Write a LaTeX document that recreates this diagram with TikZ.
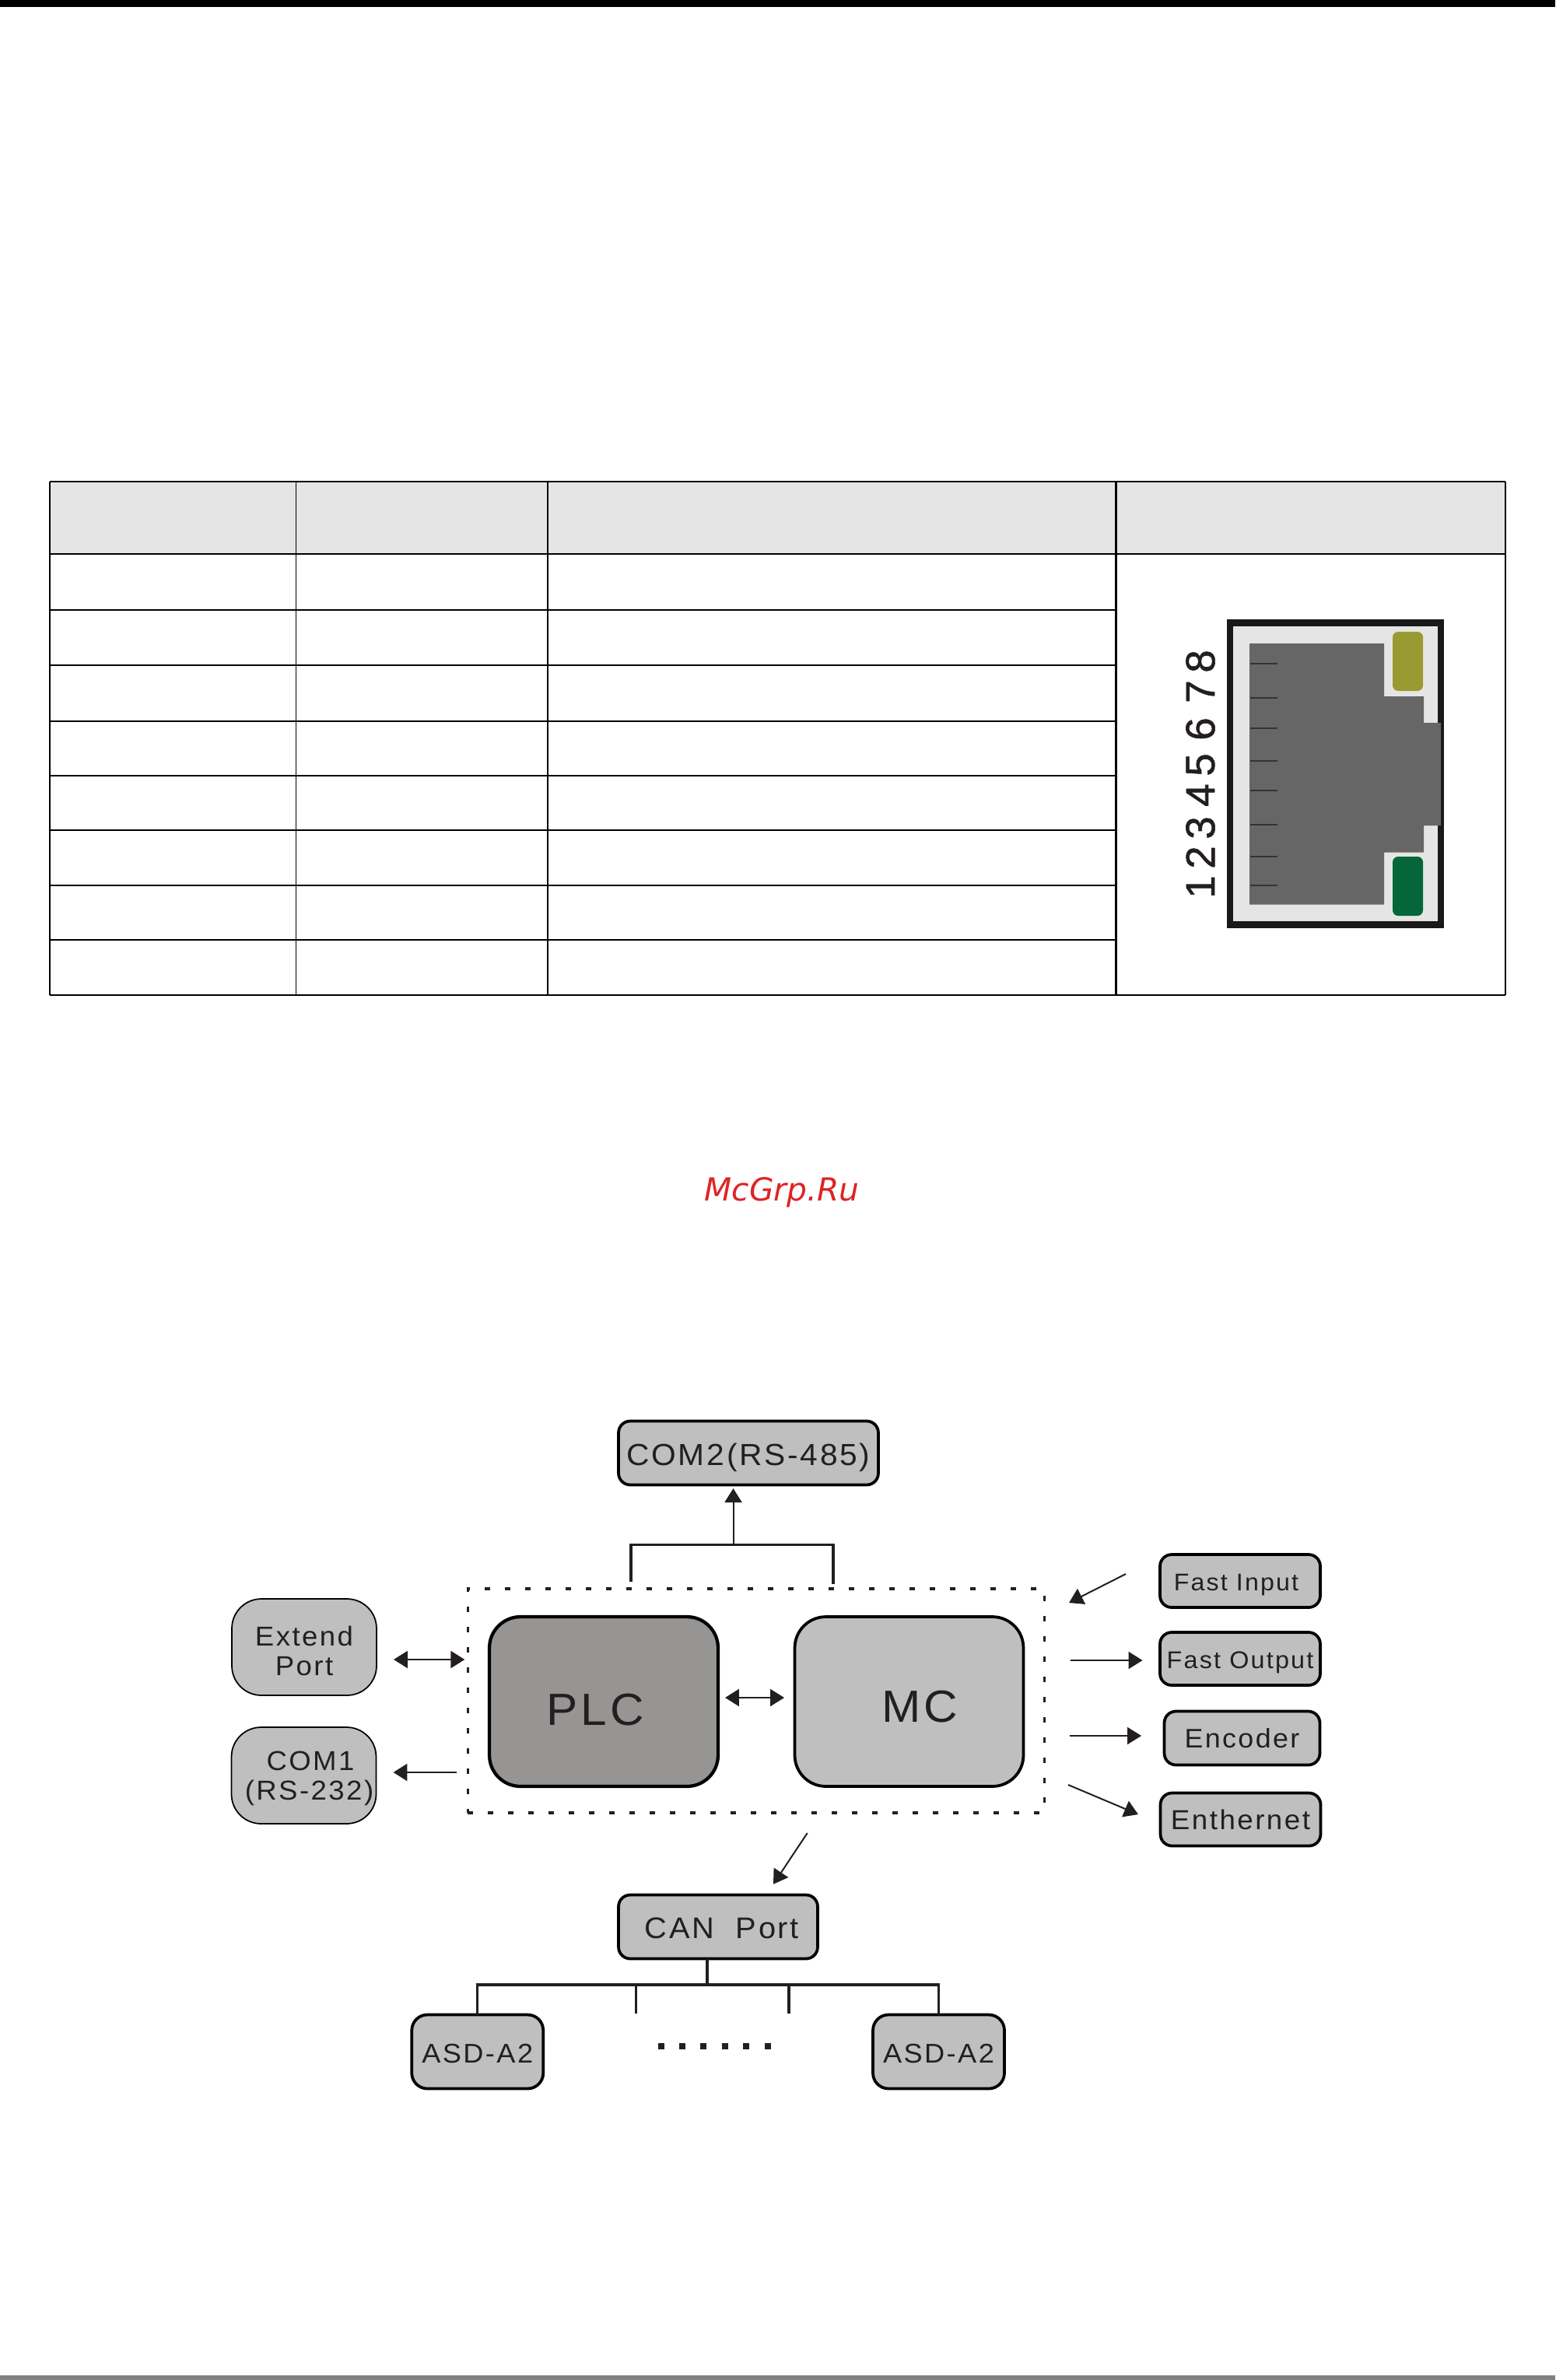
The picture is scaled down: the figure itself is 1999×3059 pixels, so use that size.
\documentclass[tikz,border=0pt]{standalone}
\usepackage{fontspec}
\usepackage{tikz}
\usetikzlibrary{arrows.meta}
\newfontfamily\lbfont[FakeStretch=1.04,LetterSpace=7]{Liberation Sans}
\newfontfamily\pinfont[FakeBold=1.2]{Liberation Sans}
\newfontfamily\markfont{DejaVu Sans}
\newcommand{\lbsize}[1]{\lbfont\fontsize{#1}{21.6pt}\selectfont}
\newcommand{\lbdown}[1]{\raisebox{-.08cm}{#1}}
\definecolor{inkc}{HTML}{231F20}
\definecolor{headc}{HTML}{E5E5E5}
\definecolor{boxc}{HTML}{BFBFBF}
\definecolor{plcc}{HTML}{969593}
\definecolor{jackc}{HTML}{666666}
\definecolor{olivec}{HTML}{9A9A32}
\definecolor{greenc}{HTML}{05663A}
\definecolor{markc}{HTML}{DE2424}

\begin{document}
\begin{tikzpicture}[
  x=0.02cm, y=-0.02cm,
  >={Triangle[length=.36cm,width=.44cm]},
  portbox/.style={draw=black, fill=boxc, line width=.075cm, rounded corners=.3cm, inner sep=0pt, outer sep=0pt, text=inkc, text depth=0pt, align=center},
  softbox/.style={portbox, line width=.035cm, rounded corners=.76cm, minimum width=3.72cm, minimum height=2.48cm, font=\lbsize{20pt}},
  corebox/.style={portbox, rounded corners=.8cm, minimum width=5.88cm, minimum height=4.36cm, font=\lbsize{33pt}},
  iobox/.style={portbox, minimum width=4.12cm, minimum height=1.36cm},
  asdbox/.style={portbox, rounded corners=.4cm, minimum width=3.38cm, minimum height=1.9cm, font=\lbsize{19.8pt}},
  flow/.style={draw=inkc, line width=.04cm},
  busline/.style={draw=inkc, line width=.065cm},
  tablerow/.style={draw=black, line width=.04cm}
  ]
  \useasboundingbox (0,0) rectangle (1999,3059);
  \fill[black] (0,0) rectangle (1999,9);
  \fill[black!50] (0,3053) rectangle (1999,3059);

  \fill[headc] (64,619) rectangle (1935,712);
  \foreach \ya in {783.5,854.5,926.5,996.5,1066.5,1137.5,1207.5}
    \draw[tablerow] (64,\ya) -- (1434,\ya);
  \draw[tablerow] (64,619) -- (1935,619);
  \draw[tablerow] (64,712) -- (1935,712);
  \draw[tablerow] (64,1278.5) -- (1935,1278.5);
  \draw[black, line width=.04cm] (64,619) -- (64,1278.5);
  \draw[black, line width=.02cm] (380,619) -- (380,1278.5);
  \draw[black, line width=.05cm] (704,619) -- (704,1278.5);
  \draw[black, line width=.06cm] (1434,619) -- (1434,1278.5);
  \draw[black, line width=.04cm] (1935,619) -- (1935,1278.5);

  \draw[draw=black!90, fill=headc, line width=.17cm] (1581,800.5) rectangle (1852,1188.5);
  \fill[jackc] (1606,827) -- (1779,827) -- (1779,895) -- (1830,895) -- (1830,929) -- (1852,929) -- (1852,1061) -- (1830,1061) -- (1830,1095.5) -- (1779,1095.5) -- (1779,1162.5) -- (1606,1162.5) -- cycle;
  \fill[olivec, rounded corners=.14cm] (1790,812) rectangle (1829,888);
  \fill[greenc, rounded corners=.14cm] (1790,1101) rectangle (1829,1177);
  \foreach \yb in {853,897,936,978,1016,1060,1101,1138}
    \draw[black!80, line width=.03cm] (1607,\yb) -- (1642,\yb);
  \foreach \pin/\yb in {1/1140,2/1102,3/1064,4/1022,5/983,6/937,7/889,8/850}
    \node[rotate=90, inner sep=0pt, text=inkc, font=\pinfont\fontsize{30pt}{30pt}\selectfont] (pin\pin) at (1543,\yb) {\pin};

  \node[anchor=base, inner sep=0pt, text=markc, font=\markfont\itshape\fontsize{23.2pt}{24pt}\selectfont] (mark) at (1005,1543) {McGrp.Ru};

  \node[draw=inkc, line width=.07cm, dash pattern=on .14cm off .38cm, inner sep=0pt, outer sep=0pt, minimum width=14.83cm, minimum height=5.76cm] (frame) at (972,2186) {};

  \node[portbox, minimum width=6.68cm, minimum height=1.64cm, font=\lbsize{22.3pt}] (com2) at (962,1867.5) {\lbdown{COM2(RS-485)}};
  \node[softbox] (extend) at (391,2117) {\rule{0pt}{.7cm}Extend\\Port};
  \node[softbox] (com1) at (390.5,2282) {\hspace*{.34cm}COM1\\\hspace*{.28cm}(RS-232)};
  \node[corebox, fill=plcc, line width=.085cm] (plc) at (776,2187) {\raisebox{-.4cm}{PLC\hspace*{.44cm}}};
  \node[corebox] (mc) at (1168.5,2187) {\raisebox{-.24cm}{\hspace*{.54cm}MC}};
  \node[iobox, font=\lbsize{17.6pt}] (fastin) at (1594,2032) {\lbdown{Fast Input\hspace*{.2cm}}};
  \node[iobox, font=\lbsize{17.7pt}] (fastout) at (1594,2132) {\lbdown{Fast Output}};
  \node[iobox, minimum width=4cm, minimum height=1.38cm, font=\lbsize{19.6pt}] (encoder) at (1596.5,2234) {Encoder};
  \node[iobox, font=\lbsize{20.1pt}] (ethernet) at (1594.5,2338.5) {Enthernet};
  \node[portbox, minimum width=5.12cm, minimum height=1.64cm, font=\lbsize{21.8pt}] (can) at (923,2476.5) {\lbdown{\hspace*{.2cm}CAN\ \ Port}};
  \node[asdbox] (asdL) at (613.75,2637) {\lbdown{ASD-A2}};
  \node[asdbox] (asdR) at (1206.5,2637) {\lbdown{ASD-A2}};

  \coordinate (brL) at (811,2033);
  \coordinate (brM) at (942.5,1985.6);
  \coordinate (brR) at (1071,2036);
  \coordinate (extendrow) at (500,2133);
  \coordinate (com1row) at (500,2278);
  \coordinate (fastinA) at (1447,2023);
  \coordinate (fastinB) at (1374,2060);
  \coordinate (ethA) at (1373,2294);
  \coordinate (ethB) at (1463,2332);
  \coordinate (canA) at (1037.7,2356);
  \coordinate (canB) at (994,2421.7);
  \coordinate (busC) at (909,2551);
  \coordinate (stubL) at (817.6,2588);
  \coordinate (stubR) at (1014,2588);
  \coordinate (dotsA) at (845.6,2630);
  \coordinate (dotsB) at (990.7,2630);

  \draw[busline] (brL) |- (brM) -| (brR);
  \draw[flow, ->, shorten >=.09cm] (brM) -- (brM |- com2.south);
  \draw[flow, <->, shorten <=.44cm, shorten >=.08cm] (extend.east |- extendrow) -- (frame.west |- extendrow);
  \draw[flow, ->, shorten <=.28cm, shorten >=.44cm] (frame.west |- com1row) -- (com1.east |- com1row);
  \draw[flow, <->, shorten <=.18cm, shorten >=.27cm] ([yshift=.1cm]plc.east) -- ([yshift=.1cm]mc.west);
  \draw[flow, ->] (fastinA) -- (fastinB);
  \draw[flow, ->, shorten <=.66cm, shorten >=.45cm] ([yshift=-.04cm]frame.east |- fastout.west) -- ([yshift=-.04cm]fastout.west);
  \draw[flow, ->, shorten <=.64cm, shorten >=.59cm] ([yshift=.06cm]frame.east |- encoder.west) -- ([yshift=.06cm]encoder.west);
  \draw[flow, ->] (ethA) -- (ethB);
  \draw[flow, ->] (canA) -- (canB);

  \draw[busline] (busC |- can.south) -- (busC);
  \draw[busline] (asdL.north) -- (asdL.north |- busC) -- (asdR.north |- busC) -- (asdR.north);
  \draw[busline] (stubL |- busC) -- (stubL);
  \draw[busline] (stubR |- busC) -- (stubR);
  \draw[inkc, line width=.16cm, dash pattern=on .16cm off .388cm] (dotsA) -- (dotsB);
\end{tikzpicture}
\end{document}
